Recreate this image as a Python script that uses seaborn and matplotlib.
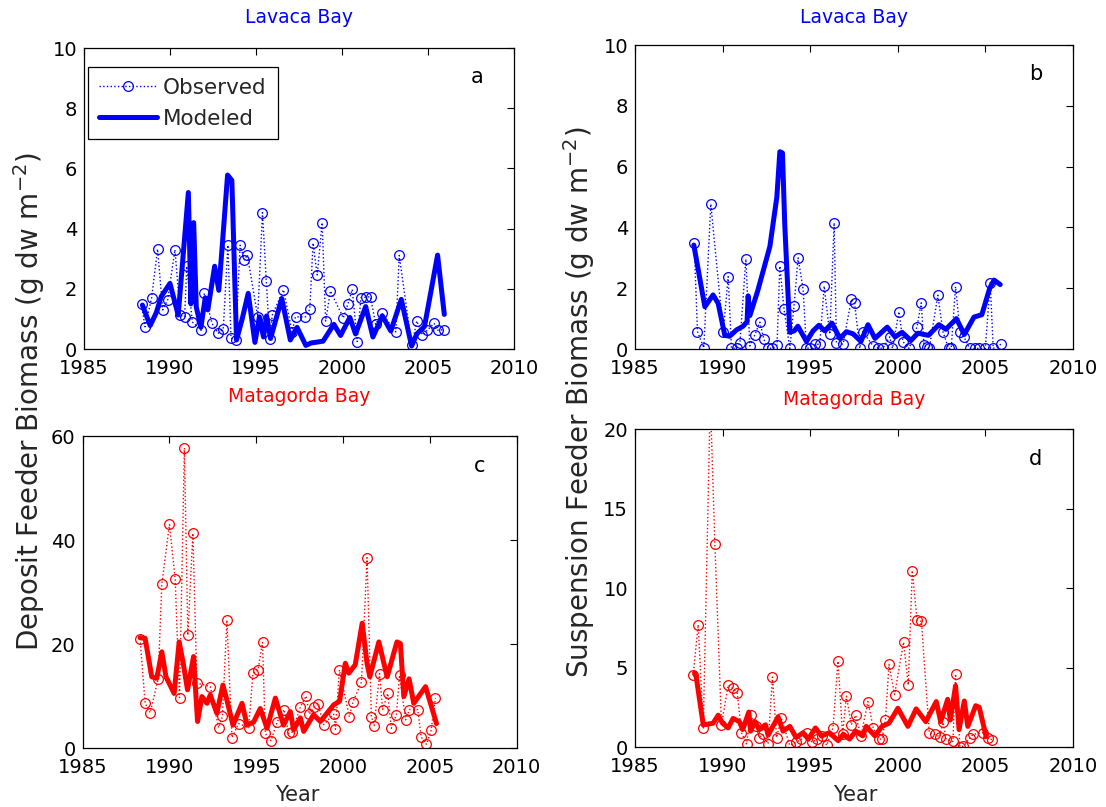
import numpy as np
import pandas as pd
import matplotlib
matplotlib.use("Agg")
import matplotlib.pyplot as plt
import seaborn as sns

# ---------------- Lavaca Bay, deposit feeders ----------------
obs_a_year = [1988.35, 1988.55, 1988.93, 1989.28, 1989.58, 1989.87, 1990.29, 1990.6, 1990.85, 1990.98,
              1991.3, 1991.82, 1992.0, 1992.45, 1992.8, 1993.1, 1993.37, 1993.55, 1993.82, 1994.08,
              1994.33, 1994.5, 1995.1, 1995.38, 1995.6, 1995.8, 1995.95, 1996.6, 1997.1, 1997.3,
              1997.88, 1998.13, 1998.32, 1998.56, 1998.85, 1999.05, 1999.33, 2000.08, 2000.34, 2000.6,
              2000.89, 2001.1, 2001.38, 2001.66, 2001.96, 2002.3, 2003.13, 2003.33, 2004.06, 2004.35,
              2004.68, 2004.97, 2005.36, 2005.56, 2005.95]
obs_a_val = [1.48, 0.74, 1.68, 3.32, 1.30, 1.64, 3.30, 1.12, 1.07, 2.75,
             0.90, 0.62, 1.85, 0.85, 0.52, 0.67, 3.45, 0.36, 0.30, 3.45,
             2.96, 3.13, 1.08, 4.53, 2.26, 0.33, 1.13, 1.97, 0.57, 1.07,
             1.07, 1.32, 3.52, 2.46, 4.20, 0.93, 1.93, 1.03, 1.49, 1.98,
             0.25, 1.70, 1.72, 1.74, 0.82, 1.20, 0.57, 3.11, 0.12, 0.93,
             0.47, 0.63, 0.85, 0.63, 0.64]
mod_a_year = [1988.4, 1988.85, 1989.2, 1989.5, 1990.0, 1990.48, 1991.07, 1991.22, 1991.38, 1991.53,
              1991.8, 1992.05, 1992.2, 1992.6, 1992.84, 1993.05, 1993.35, 1993.6, 1993.87, 1994.2,
              1994.55, 1994.94, 1995.2, 1995.44, 1995.62, 1995.85, 1996.5, 1997.0, 1997.39, 1997.9,
              1998.2, 1998.9, 1999.53, 1999.92, 2000.46, 2000.79, 2001.38, 2001.8, 2002.35, 2002.84,
              2003.45, 2004.05, 2004.35, 2004.8, 2005.56, 2005.95]
mod_a_val = [1.46, 0.78, 1.20, 1.75, 2.18, 1.13, 5.20, 1.50, 4.20, 1.40,
             0.72, 1.70, 1.30, 2.75, 1.95, 3.50, 5.78, 5.60, 0.30, 1.00,
             1.85, 0.22, 1.07, 0.40, 1.10, 0.35, 1.68, 0.30, 0.72, 0.12,
             0.20, 0.26, 0.82, 0.45, 1.05, 0.50, 1.41, 0.40, 1.10, 0.60,
             1.65, 0.10, 0.50, 0.75, 3.12, 1.15]

# ---------------- Lavaca Bay, suspension feeders ----------------
obs_b_year = [1988.38, 1988.57, 1988.93, 1989.33, 1990.04, 1990.32, 1990.51, 1990.8, 1990.99, 1991.33,
              1991.56, 1991.84, 1992.13, 1992.36, 1992.6, 1992.85, 1993.11, 1993.27, 1993.51, 1993.84,
              1994.08, 1994.31, 1994.6, 1994.79, 1995.02, 1995.3, 1995.55, 1995.8, 1996.12, 1996.37,
              1996.5, 1996.88, 1997.35, 1997.54, 1997.83, 1998.0, 1998.6, 1998.9, 1999.16, 1999.54,
              1999.7, 2000.07, 2000.3, 2000.65, 2001.1, 2001.34, 2001.5, 2001.65, 2001.8, 2002.29,
              2002.58, 2002.9, 2003.05, 2003.3, 2003.56, 2003.8, 2004.1, 2004.4, 2004.65, 2005.0,
              2005.28, 2005.45, 2005.9]
obs_b_val = [3.48, 0.57, 0.04, 4.77, 0.55, 2.38, 0.03, 0.02, 0.19, 2.96,
             0.10, 0.46, 0.88, 0.32, 0.03, 0.02, 0.13, 2.73, 1.31, 0.02,
             1.41, 3.00, 1.96, 0.02, 0.04, 0.15, 0.16, 2.07, 0.49, 4.15,
             0.19, 0.16, 1.63, 1.50, 0.02, 0.57, 0.10, 0.03, 0.03, 0.40,
             0.02, 1.23, 0.24, 0.02, 0.73, 1.52, 0.12, 0.08, 0.02, 1.77,
             0.57, 0.02, 0.02, 2.05, 0.55, 0.38, 0.02, 0.02, 0.02, 0.02,
             2.18, 0.02, 0.16]
mod_b_year = [1988.36, 1988.99, 1989.46, 1989.75, 1990.13, 1990.4, 1990.8, 1991.17, 1991.4, 1991.46,
              1991.56, 1992.0, 1992.7, 1993.1, 1993.27, 1993.42, 1993.55, 1993.84, 1994.1, 1994.3,
              1994.79, 1995.17, 1995.5, 1995.83, 1996.25, 1996.7, 1997.07, 1997.45, 1997.9, 1998.3,
              1998.7, 1999.4, 1999.85, 2000.25, 2000.75, 2001.15, 2001.75, 2002.35, 2002.75, 2003.35,
              2003.8, 2004.35, 2004.8, 2005.25, 2005.5, 2005.85]
mod_b_val = [3.42, 1.39, 1.78, 1.50, 0.45, 0.42, 0.63, 0.75, 0.90, 1.75,
             1.10, 1.90, 3.37, 5.00, 6.49, 6.45, 4.10, 0.55, 0.60, 0.75,
             0.25, 0.60, 0.78, 0.60, 0.85, 0.35, 0.57, 0.50, 0.25, 0.80,
             0.35, 0.72, 0.40, 0.55, 0.28, 0.52, 0.45, 0.80, 0.65, 1.00,
             0.48, 1.05, 1.13, 2.00, 2.27, 2.12]

# ---------------- Matagorda Bay, deposit feeders ----------------
obs_c_year = [1988.31, 1988.6, 1988.89, 1989.35, 1989.56, 1990.0, 1990.33, 1990.58, 1990.86, 1991.06,
              1991.35, 1991.58, 1992.35, 1992.83, 1993.05, 1993.31, 1993.6, 1993.98, 1994.56, 1994.81,
              1995.1, 1995.36, 1995.52, 1995.85, 1996.2, 1996.61, 1996.86, 1997.06, 1997.54, 1997.87,
              1998.06, 1998.3, 1998.56, 1998.88, 1999.46, 1999.56, 1999.79, 2000.36, 2000.57, 2001.06,
              2001.38, 2001.63, 2001.79, 2002.1, 2002.28, 2002.57, 2002.78, 2003.07, 2003.25, 2003.6,
              2003.82, 2004.3, 2004.5, 2004.8, 2005.07, 2005.32]
obs_c_val = [21.0, 8.6, 6.8, 13.3, 31.5, 43.0, 32.5, 9.7, 57.7, 21.7,
             41.3, 12.5, 11.8, 3.9, 6.1, 24.6, 2.0, 4.7, 3.9, 14.4,
             15.0, 20.3, 2.8, 1.4, 5.0, 7.4, 2.8, 3.0, 7.9, 10.0,
             6.5, 7.8, 8.4, 4.5, 6.5, 3.6, 15.0, 6.0, 8.9, 12.7,
             36.6, 6.0, 4.3, 14.3, 7.4, 10.5, 3.8, 6.4, 14.0, 5.4,
             7.4, 7.4, 2.1, 0.7, 3.4, 9.6]
mod_c_year = [1988.31, 1988.6, 1988.98, 1989.27, 1989.56, 1989.8, 1990.27, 1990.56, 1990.8, 1991.04,
              1991.39, 1991.48, 1991.62, 1991.87, 1992.16, 1992.35, 1992.73, 1993.08, 1993.31, 1993.66,
              1994.18, 1994.47, 1994.85, 1995.23, 1995.62, 1996.1, 1996.57, 1996.96, 1997.15, 1997.54,
              1997.73, 1998.3, 1998.69, 1999.46, 1999.8, 2000.13, 2000.33, 2000.7, 2001.1, 2001.38,
              2001.54, 2002.06, 2002.35, 2002.54, 2003.1, 2003.3, 2003.5, 2003.8, 2004.07, 2004.75,
              2005.38]
mod_c_val = [21.2, 21.1, 13.7, 13.4, 18.5, 13.7, 10.5, 20.4, 16.2, 11.2,
             17.6, 12.5, 5.1, 9.9, 8.6, 10.2, 6.7, 12.1, 9.2, 4.4,
             8.6, 4.4, 5.0, 7.6, 3.8, 9.6, 4.4, 7.0, 3.5, 5.8,
             3.2, 6.4, 5.1, 8.3, 9.0, 16.3, 14.4, 16.0, 24.0, 16.3,
             13.7, 20.4, 16.3, 13.7, 20.4, 20.1, 9.9, 13.3, 8.6, 11.8,
             4.7]

# ---------------- Matagorda Bay, suspension feeders ----------------
obs_d_year = [1988.32, 1988.61, 1988.9, 1989.3, 1989.56, 1989.94, 1990.32, 1990.57, 1990.84, 1991.08,
              1991.37, 1991.6, 1991.9, 1992.1, 1992.3, 1992.6, 1992.85, 1993.08, 1993.36, 1993.84,
              1994.2, 1994.5, 1994.8, 1995.1, 1995.4, 1995.65, 1995.95, 1996.3, 1996.59, 1996.85,
              1997.07, 1997.35, 1997.6, 1997.9, 1998.3, 1998.6, 1998.95, 1999.1, 1999.3, 1999.5,
              1999.82, 2000.33, 2000.6, 2000.83, 2001.1, 2001.35, 2001.8, 2002.1, 2002.39, 2002.58,
              2002.77, 2003.15, 2003.3, 2003.55, 2003.75, 2004.1, 2004.3, 2004.85, 2005.13, 2005.4]
obs_d_val = [4.5, 7.7, 1.2, 22.0, 12.8, 1.4, 3.9, 3.7, 3.4, 0.9,
             0.2, 2.0, 1.3, 0.6, 0.8, 0.2, 4.4, 0.6, 1.8, 0.1,
             0.3, 0.5, 0.9, 0.3, 0.5, 0.7, 0.1, 1.2, 5.4, 0.8,
             3.2, 1.4, 2.0, 0.7, 2.86, 1.2, 0.5, 0.5, 1.7, 5.2,
             3.3, 6.6, 3.9, 11.1, 8.0, 7.9, 0.9, 0.8, 0.65, 1.55,
             0.5, 0.35, 4.6, 0.02, 0.05, 0.55, 0.8, 0.9, 0.6, 0.45]
mod_d_year = [1988.4, 1988.5, 1988.9, 1989.46, 1989.75, 1990.0, 1990.32, 1990.6, 1990.96, 1991.15,
              1991.5, 1991.6, 1991.85, 1992.1, 1992.45, 1992.6, 1993.17, 1993.45, 1993.84, 1994.2,
              1994.6, 1994.9, 1995.3, 1995.65, 1996.1, 1996.6, 1996.9, 1997.25, 1997.6, 1998.0,
              1998.2, 1998.7, 1999.1, 1999.5, 2000.01, 2000.58, 2001.05, 2001.6, 2002.2, 2002.45,
              2002.85, 2003.0, 2003.3, 2003.5, 2003.8, 2004.0, 2004.45, 2004.65, 2005.05]
mod_d_val = [4.65, 4.4, 1.39, 1.5, 2.0, 1.5, 1.2, 1.8, 1.6, 1.1,
             2.2, 1.0, 1.6, 1.1, 1.4, 0.75, 1.9, 1.0, 1.3, 0.6,
             0.9, 0.5, 1.2, 0.7, 0.9, 0.4, 0.8, 0.5, 1.0, 0.7,
             1.3, 0.7, 1.3, 1.5, 2.44, 1.3, 2.4, 1.6, 2.86, 1.6,
             3.0, 1.7, 3.85, 1.1, 2.9, 1.3, 2.6, 2.5, 0.65]

x_ticks = [1985, 1990, 1995, 2000, 2005, 2010]

sns.set_style("white")
plt.rcParams["font.family"] = ["DejaVu Sans"]

BLUE = (0.0, 0.0, 1.0)
RED = (1.0, 0.0, 0.0)

fig = plt.figure(figsize=(11.06, 8.07), dpi=100)

panels = [
    dict(rect=[0.0759, 0.5675, 0.3888, 0.373], obs=(obs_a_year, obs_a_val), mod=(mod_a_year, mod_a_val),
         color=BLUE, ylim=(0, 10), yticks=[0, 2, 4, 6, 8, 10], title="Lavaca Bay", letter="a", title_gap=31),
    dict(rect=[0.5741, 0.5675, 0.396, 0.3767], obs=(obs_b_year, obs_b_val), mod=(mod_b_year, mod_b_val),
         color=BLUE, ylim=(0, 10), yticks=[0, 2, 4, 6, 8, 10], title="Lavaca Bay", letter="b", title_gap=28),
    dict(rect=[0.0747, 0.0731, 0.3925, 0.3866], obs=(obs_c_year, obs_c_val), mod=(mod_c_year, mod_c_val),
         color=RED, ylim=(0, 60), yticks=[0, 20, 40, 60], title="Matagorda Bay", letter="c", title_gap=40),
    dict(rect=[0.5741, 0.0743, 0.396, 0.394], obs=(obs_d_year, obs_d_val), mod=(mod_d_year, mod_d_val),
         color=RED, ylim=(0, 20), yticks=[0, 5, 10, 15, 20], title="Matagorda Bay", letter="d", title_gap=30),
]

axes = []
for p in panels:
    ax = fig.add_axes(p["rect"])
    obs = pd.DataFrame({"Year": p["obs"][0], "Biomass": p["obs"][1]})
    mod = pd.DataFrame({"Year": p["mod"][0], "Biomass": p["mod"][1]})
    # observed samples: dotted line through open circles
    sns.lineplot(data=obs, x="Year", y="Biomass", ax=ax, sort=False, estimator=None,
                 color=p["color"], linestyle=":", linewidth=1.0, marker="o", markersize=7,
                 markerfacecolor="none", markeredgecolor=p["color"], markeredgewidth=0.9,
                 label="Observed")
    # model output: heavy solid line on top
    sns.lineplot(data=mod, x="Year", y="Biomass", ax=ax, sort=False, estimator=None,
                 color=p["color"], linewidth=3.6, label="Modeled")
    ax.set_xlim(1985, 2010)
    ax.set_ylim(*p["ylim"])
    ax.set_xticks(x_ticks)
    ax.set_yticks(p["yticks"])
    ax.set_xlabel("")
    ax.set_ylabel("")
    ax.tick_params(direction="in", top=True, right=True, length=5, width=0.8,
                   labelsize=14, colors="black", pad=5)
    ax.tick_params(axis="x", pad=7)
    for s in ax.spines.values():
        s.set_color("black")
        s.set_linewidth(0.9)
        s.set_visible(True)
    height_px = p["rect"][3] * 807
    ax.text(0.5, 1 + p["title_gap"] / height_px, p["title"], transform=ax.transAxes,
            ha="center", va="center", color=p["color"], fontsize=13.5)
    ax.text(0.915, 0.905, p["letter"], transform=ax.transAxes, ha="center", va="center",
            color="black", fontsize=15)
    if ax.get_legend() is not None:
        ax.get_legend().remove()
    axes.append(ax)

leg = axes[0].legend(loc="upper left", bbox_to_anchor=(0.009, 0.937), borderaxespad=0,
                     fontsize=15.5, frameon=True, fancybox=False, edgecolor="black", framealpha=1,
                     handlelength=2.7, borderpad=0.5, labelspacing=0.5, handletextpad=0.3)
leg.get_frame().set_linewidth(0.9)

fig.text(29 / 1106, 1 - 402 / 807, "Deposit Feeder Biomass (g dw m$^{-2}$)", rotation=90,
         ha="center", va="center", fontsize=20)
fig.text(579 / 1106, 1 - 402 / 807, "Suspension Feeder Biomass (g dw m$^{-2}$)", rotation=90,
         ha="center", va="center", fontsize=20)
fig.text(297 / 1106, 1 - 795 / 807, "Year", ha="center", va="center", fontsize=15)
fig.text(855 / 1106, 1 - 795 / 807, "Year", ha="center", va="center", fontsize=15)

fig.savefig("out.png", dpi=100, facecolor="white")
